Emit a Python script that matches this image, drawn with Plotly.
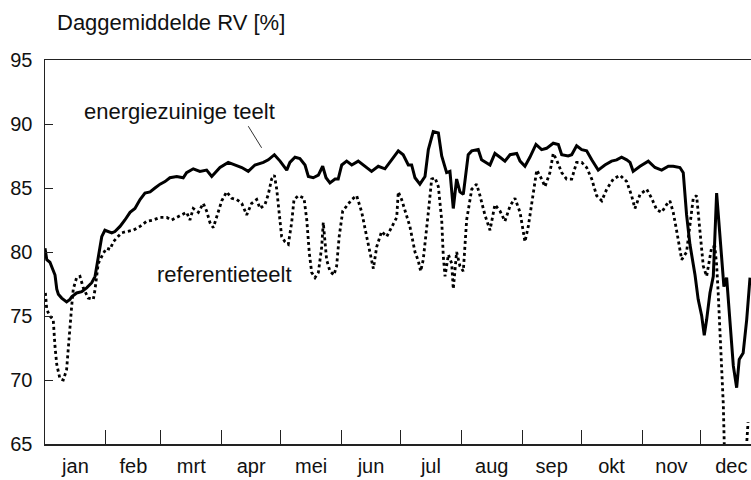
import plotly.graph_objects as go

# ---------------- data ----------------
months = ["jan", "feb", "mrt", "apr", "mei", "jun", "jul", "aug", "sep", "okt", "nov", "dec"]
month_start = [0, 31, 59, 90, 120, 151, 181, 212, 243, 273, 304, 334]
month_mid = [15.5, 45, 74.5, 105, 135.5, 166, 196.5, 227.5, 258, 288.5, 319, 349.5]
y_ticks = [65, 70, 75, 80, 85, 90, 95]

# energiezuinige teelt (day of year, daily mean RH %)
eco_day = [0, 0.9, 2.5, 3.4, 5.1, 6.0, 6.8, 8.5, 11.0, 12.7,
           13.6, 16.1, 18.7, 21.2, 23.8, 25.5, 27.1, 28.9, 30.5, 34.0,
           35.6, 38.2, 40.7, 43.3, 45.8, 48.4, 50.9, 53.5, 56.0, 58.6,
           61.1, 63.6, 67.1, 70.4, 72.1, 75.5, 78.9, 82.3, 84.9, 89.1,
           93.3, 96.7, 100.2, 103.5, 106.9, 111.2, 113.7, 116.8, 119.7, 123.1,
           124.7, 127.3, 129.8, 132.4, 134.1, 136.6, 139.2, 141.4, 143.1, 145.1,
           147.7, 149.3, 151.1, 153.6, 156.2, 159.5, 162.9, 166.3, 169.7, 173.1,
           176.5, 179.9, 182.4, 185.0, 186.7, 188.4, 190.9, 193.5, 195.2, 197.7,
           200.3, 202.0, 204.5, 206.2, 207.9, 209.6, 211.3, 213.0, 215.5, 217.3,
           220.6, 222.3, 226.6, 229.1, 231.7, 234.2, 236.8, 240.2, 241.9, 244.4,
           246.9, 250.0, 252.9, 255.4, 258.8, 261.4, 263.1, 266.4, 268.2, 270.7,
           273.3, 275.8, 278.4, 281.7, 285.1, 288.5, 291.1, 293.6, 296.2, 297.9,
           299.5, 303.0, 307.2, 310.6, 314.0, 317.4, 319.9, 323.3, 325.0, 325.9,
           326.7, 328.4, 331.0, 332.6, 334.4, 335.7, 336.9, 338.6, 340.3, 342.0,
           343.7, 345.7, 347.1, 348.8, 350.5, 352.2, 353.5, 355.5, 357.3, 359.0]
eco_rv = [80.3, 79.4, 79.2, 78.9, 78.2, 77.1, 76.7, 76.4, 76.1, 76.3,
          76.5, 76.8, 76.9, 77.2, 77.6, 78.1, 79.7, 81.2, 81.7, 81.5,
          81.6, 82.0, 82.5, 83.1, 83.4, 84.1, 84.6, 84.7, 85.0, 85.3,
          85.5, 85.8, 85.9, 85.8, 86.2, 86.5, 86.3, 86.4, 85.9, 86.6,
          87.0, 86.8, 86.6, 86.3, 86.8, 87.0, 87.2, 87.6, 87.1, 86.4,
          87.0, 87.4, 87.3, 86.8, 85.9, 85.8, 86.0, 86.7, 85.8, 85.4,
          85.7, 85.7, 86.8, 87.1, 86.8, 87.1, 86.7, 86.3, 86.7, 86.5,
          87.2, 87.9, 87.6, 86.8, 86.8, 85.8, 85.3, 85.9, 88.0, 89.4,
          89.3, 87.5, 86.2, 86.3, 83.4, 85.7, 84.7, 84.5, 87.6, 87.9,
          88.0, 87.2, 86.8, 87.7, 87.4, 87.1, 87.6, 87.7, 87.1, 86.7,
          87.4, 88.4, 88.0, 88.1, 88.5, 88.4, 87.6, 87.5, 87.6, 88.3,
          88.0, 87.9, 87.2, 86.4, 86.8, 87.1, 87.2, 87.4, 87.2, 87.0,
          86.3, 86.7, 87.1, 86.6, 86.4, 86.7, 86.7, 86.6, 86.2, 84.6,
          82.9, 80.6, 78.2, 76.3, 75.0, 73.5, 74.7, 76.8, 78.1, 84.6,
          81.0, 77.3, 78.0, 74.7, 71.1, 69.4, 71.6, 72.1, 74.7, 78.0]

# referentieteelt
ref_day = [0.2, 0.9, 2.5, 4.2, 5.1, 6.0, 7.6, 9.3, 11.0, 11.9,
           12.7, 13.6, 14.4, 16.1, 17.8, 19.5, 22.0, 24.6, 25.5, 27.1,
           29.7, 31.4, 33.1, 34.8, 36.5, 39.1, 41.6, 45.0, 48.4, 51.8,
           55.1, 58.6, 62.0, 64.5, 67.1, 69.6, 72.1, 73.8, 75.5, 78.1,
           80.6, 82.3, 84.0, 85.7, 87.4, 90.0, 92.5, 95.1, 97.6, 100.2,
           102.7, 105.2, 107.8, 109.5, 112.0, 113.7, 115.4, 116.8, 118.0, 119.2,
           120.5, 122.2, 123.9, 125.6, 126.8, 129.0, 131.9, 133.3, 134.6, 135.8,
           137.5, 139.2, 140.9, 141.7, 142.6, 143.4, 145.1, 147.1, 148.5, 149.8,
           151.6, 153.6, 156.2, 158.7, 161.3, 163.8, 166.3, 167.2, 168.9, 171.4,
           174.0, 176.5, 179.1, 179.9, 181.6, 184.2, 185.8, 188.4, 190.1, 191.3,
           192.6, 195.2, 196.9, 198.6, 200.3, 202.0, 202.8, 203.7, 205.4, 207.1,
           207.9, 209.6, 211.3, 213.0, 214.7, 217.3, 219.8, 221.5, 224.0, 226.6,
           229.1, 231.7, 234.2, 236.8, 239.3, 241.9, 244.4, 246.1, 247.8, 250.4,
           252.9, 254.6, 257.1, 258.8, 260.5, 263.1, 265.6, 268.2, 270.7, 273.3,
           275.8, 278.4, 280.9, 283.5, 286.0, 289.4, 292.8, 296.2, 298.7, 300.4,
           303.0, 306.4, 308.9, 311.5, 314.0, 316.5, 318.2, 319.9, 321.6, 324.2,
           326.7, 328.4, 330.1, 331.8, 333.5, 335.2, 336.9, 339.5, 341.1, 342.0,
           342.8, 343.7, 344.6, 345.4, 345.9, None, 357.0, 358.0]
ref_rv = [76.8, 75.5, 75.0, 74.7, 72.6, 71.2, 70.1, 70.0, 70.8, 72.6,
          74.7, 75.8, 77.1, 78.0, 78.1, 77.2, 76.4, 76.3, 77.1, 79.1,
          79.9, 80.3, 80.2, 80.8, 81.1, 81.5, 81.6, 81.7, 82.0, 82.4,
          82.5, 82.7, 82.7, 82.5, 82.7, 82.9, 83.1, 82.5, 83.4, 83.1,
          83.8, 83.2, 82.3, 81.9, 82.8, 84.0, 84.7, 84.2, 84.1, 83.8,
          82.9, 83.8, 84.1, 83.4, 83.7, 84.5, 85.7, 86.0, 84.9, 82.8,
          81.2, 80.8, 80.6, 82.3, 84.1, 84.4, 84.2, 82.5, 79.9, 78.4,
          78.0, 78.4, 80.4, 82.3, 81.0, 79.4, 78.5, 78.2, 78.9, 81.2,
          83.2, 83.6, 84.1, 84.4, 83.1, 81.2, 79.5, 78.7, 80.4, 81.6,
          81.2, 82.0, 82.7, 84.7, 84.1, 82.8, 82.0, 80.0, 79.3, 78.5,
          79.4, 83.1, 85.7, 85.8, 85.1, 82.5, 79.7, 78.1, 79.8, 79.1,
          77.1, 80.0, 78.9, 78.5, 82.5, 84.9, 85.3, 84.4, 82.9, 81.7,
          83.7, 83.2, 82.4, 83.6, 84.2, 83.1, 80.8, 82.0, 83.8, 86.4,
          85.7, 85.1, 86.2, 87.7, 87.2, 86.2, 85.7, 85.7, 87.0, 87.0,
          86.6, 85.7, 84.4, 84.0, 84.9, 85.7, 86.0, 85.5, 84.4, 83.4,
          84.5, 84.9, 84.2, 83.3, 83.1, 83.7, 84.0, 83.1, 81.7, 79.4,
          80.0, 82.3, 84.2, 84.4, 81.7, 78.9, 78.1, 80.4, 80.4, 79.0,
          76.8, 73.9, 71.2, 68.1, 64.9, None, 64.3, 66.7]

title_text = "Daggemiddelde RV [%]"
label_eco = "energiezuinige teelt"
label_ref = "referentieteelt"

# ---------------- figure ----------------
TICK_FONT = dict(family="Liberation Sans, Arial, sans-serif", size=20, color="#111")
TEXT_FONT = dict(family="Liberation Sans, Arial, sans-serif", size=22, color="#111")
AX = "#222"

fig = go.Figure()
fig.add_trace(go.Scatter(x=eco_day, y=eco_rv, mode="lines", name=label_eco,
                         line=dict(color="black", width=3), showlegend=False))
fig.add_trace(go.Scatter(x=ref_day, y=ref_rv, mode="lines", name=label_ref,
                         line=dict(color="black", width=2.8, dash="3px,3px"),
                         connectgaps=False, showlegend=False))

fig.update_layout(
    width=751, height=480,
    margin=dict(l=45, r=0, t=60, b=36, autoexpand=False),
    paper_bgcolor="white", plot_bgcolor="white",
    xaxis=dict(range=[0, 359.5], tickmode="array", tickvals=month_mid, ticktext=months,
               ticks="", tickfont=TICK_FONT, ticklabelstandoff=3,
               minor=dict(tickmode="array", tickvals=month_start[1:], ticks="inside",
                          ticklen=14, tickwidth=1, tickcolor=AX, showgrid=False),
               showline=True, linecolor=AX, linewidth=1.5, mirror=True,
               showgrid=False, zeroline=False),
    yaxis=dict(range=[65, 95], tickvals=y_ticks, ticks="inside", ticklen=8,
               tickwidth=1, tickcolor=AX, showline=True, linecolor=AX, linewidth=1.5,
               showgrid=False, zeroline=False, tickfont=TICK_FONT, ticklabelstandoff=7),
    annotations=[
        dict(text=title_text, xref="paper", yref="paper", x=(55 - 45) / 706,
             y=1 + (60 - 22) / 384, xanchor="left", yanchor="middle",
             showarrow=False, font=TEXT_FONT),
        dict(text=label_eco, x=68.7, y=90.95, xref="x", yref="y",
             xanchor="center", yanchor="middle", showarrow=False, font=TEXT_FONT),
        dict(text=label_ref, x=91.2, y=78.22, xref="x", yref="y",
             xanchor="center", yanchor="middle", showarrow=False, font=TEXT_FONT),
    ],
    shapes=[dict(type="line", xref="x", yref="y", x0=103.5, y0=89.83, x1=110.3, y1=88.14,
                 line=dict(color="#333", width=1))],
)

# remove the default page margin so the 751x480 figure fills the window exactly
fig.write_html("out.html",
               config={"displayModeBar": False, "staticPlot": True},
               post_script="document.body.style.margin='0';document.body.style.overflow='hidden';")
